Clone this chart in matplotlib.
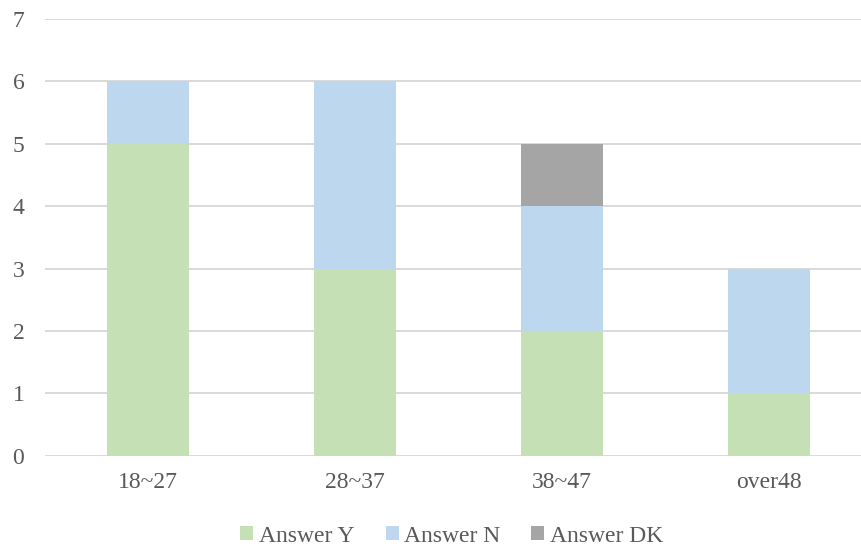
import matplotlib
matplotlib.use("Agg")
import matplotlib.pyplot as plt
from matplotlib.patches import Patch
import numpy as np

categories = ["18~27", "28~37", "38~47", "over48"]
answer_y = [5, 3, 2, 1]
answer_n = [1, 3, 2, 2]
answer_dk = [0, 0, 1, 0]
series_names = ["Answer Y", "Answer N", "Answer DK"]
colors = ["#C5E0B4", "#BDD7EE", "#A5A5A5"]

plt.rcParams["font.family"] = ["Liberation Serif", "DejaVu Serif"]
text_color = "#595959"
fs = 17

fig = plt.figure(figsize=(8.61, 5.47), dpi=100)
ax = fig.add_axes([44.5 / 861, 91.3 / 547, 1 - 44.5 / 861, (455.7 - 19) / 547])

x = np.arange(len(categories))
width = 0.4
bottom = np.zeros(len(categories))
for vals, col in zip([answer_y, answer_n, answer_dk], colors):
    ax.bar(x, vals, width, bottom=bottom, color=col, edgecolor="none", zorder=2)
    bottom += np.array(vals)

ax.set_xlim(-0.5, (861 - 148) / 207)
ax.set_ylim(0, 7)
ax.set_yticks(range(0, 8))
ax.yaxis.grid(True, color="#D9D9D9", linewidth=1.4, zorder=0)
ax.set_axisbelow(True)
for s in ax.spines.values():
    s.set_visible(False)
ax.tick_params(axis="both", length=0, labelsize=fs, colors=text_color)
ax.tick_params(axis="y", pad=14.5)
ax.tick_params(axis="x", pad=12)
ax.set_xticks(x)
ax.set_xticklabels(categories)

handles = [Patch(facecolor=c, edgecolor="none") for c in colors]
fig.legend(handles, series_names, loc="center", bbox_to_anchor=(452 / 861, 1 - 536 / 547),
           ncol=3, frameon=False, fontsize=fs, labelcolor=text_color,
           handlelength=0.55, handleheight=0.55, handletextpad=0.25, columnspacing=1.3)

fig.savefig("out.png", dpi=100)
